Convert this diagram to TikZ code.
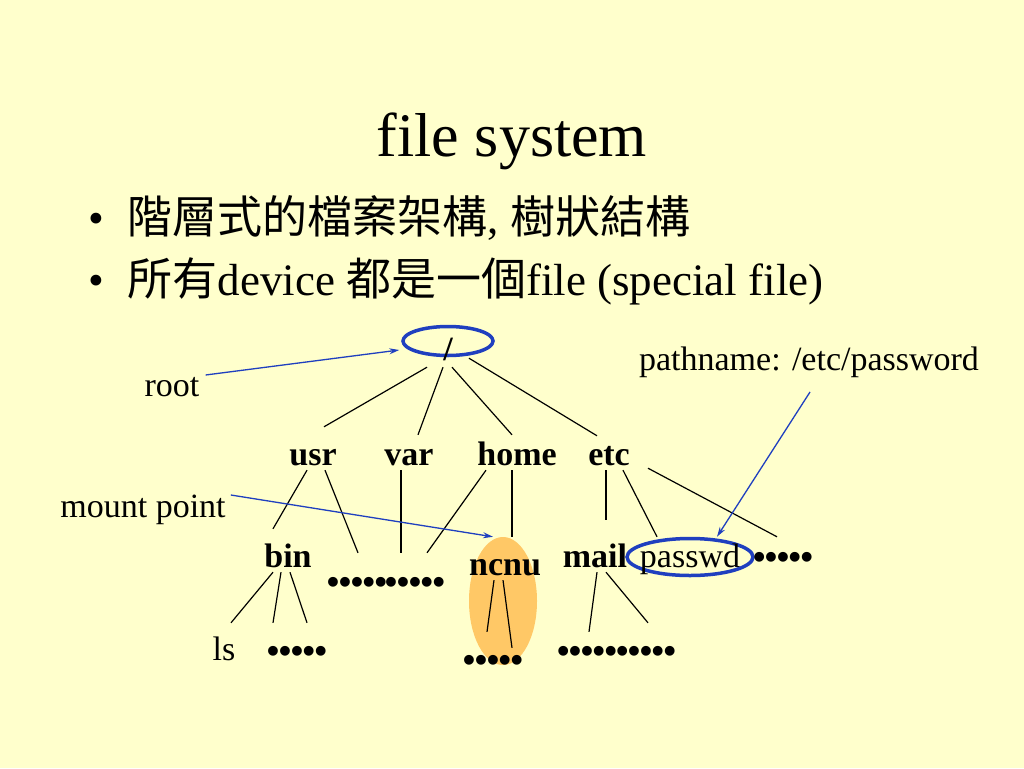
\documentclass[tikz,border=0pt]{standalone}
\usepackage{fontspec}
\setmainfont{Liberation Serif}
\newfontfamily\cjk{Noto Sans CJK TC}
\newfontfamily\dotfont{Liberation Sans}
\usetikzlibrary{arrows.meta,shapes.geometric}
\definecolor{slidebg}{HTML}{FFFFCC}
\definecolor{ringblue}{HTML}{1F3FBF}
\definecolor{mountfill}{HTML}{FFC866}
\tikzset{
    dirnode/.style={inner sep=0pt, anchor=base, text height=38pt, text depth=5pt, font=\fontsize{34}{40}\selectfont\bfseries},
    leafnode/.style={dirnode, font=\fontsize{34}{40}\selectfont},
    dotsnode/.style={dirnode, font=\fontsize{34}{40}\selectfont\dotfont\bfseries},
    note/.style={inner sep=0pt, anchor=base, font=\fontsize{34}{40}\selectfont},
    ring/.style={ellipse, draw=ringblue, line width=3.5pt, inner sep=0pt},
    pointer/.style={draw=ringblue, line width=1.3pt, -{Stealth[length=10pt,width=6pt]}},
    branch/.style={line width=1.2pt},
}
\begin{document}
\begin{tikzpicture}[x=1pt,y=-1pt]
    \fill[slidebg] (0,0) rectangle (1024,768);
    \node[note, font=\fontsize{62}{70}\selectfont] (title) at (512,156) {file system};
    \node[note, anchor=base west, font=\fontsize{45}{50}\selectfont] (bulletA) at (88,233) {•\hspace{23.6pt}{\cjk 階層式的檔案架構}, {\cjk 樹狀結構}};
    \node[note, anchor=base west, font=\fontsize{45}{50}\selectfont] (bulletB) at (88,295) {•\hspace{23.6pt}{\cjk 所有}device {\cjk 都是一個}file (special file)};

    \node[ellipse, fill=mountfill, minimum width=68pt, minimum height=128pt, inner sep=0pt] (ncnuring) at (503,601) {};
    \node[ring, minimum width=90pt, minimum height=29pt] (rootring) at (448,341) {};
    \node[ring, minimum width=126pt, minimum height=37pt] (pwring) at (690,557) {};

    \node[dirnode] (root) at (448,360) {/};
    \node[dirnode] (usr) at (313,465) {usr};
    \node[dirnode] (var) at (409,465) {var};
    \node[dirnode] (home) at (517,465) {home};
    \node[dirnode] (etc) at (609,465) {etc};
    \node[dirnode] (bin) at (288,567) {bin};
    \node[dotsnode] (dA) at (357,593) {•••••};
    \node[dotsnode] (dB) at (415,593) {•••••};
    \node[dirnode] (ncnu) at (505,575) {ncnu};
    \node[dirnode] (mail) at (595,567) {mail};
    \node[leafnode] (passwd) at (690,567) {passwd};
    \node[dotsnode] (dE) at (783,568) {•••••};
    \node[leafnode] (ls) at (224,660) {ls};
    \node[dotsnode] (dF) at (297,662) {•••••};
    \node[dotsnode] (dG) at (493,671) {•••••};
    \node[dotsnode] (dH) at (587,662) {•••••};
    \node[dotsnode] (dI) at (646,662) {•••••};

    \draw[branch] ([shift={(-21,2)}]root.south) -- ([shift={(11,0)}]usr.north);
    \draw[branch] ([shift={(-5,2)}]root.south) -- ([shift={(9,8)}]var.north);
    \draw[branch] ([shift={(4,2)}]root.south) -- ([shift={(-5,8)}]home.north);
    \draw[branch] ([shift={(21,-7)}]root.south) -- ([shift={(-12,9)}]etc.north);
    \draw[branch] ([shift={(-6,0)}]usr.south) -- ([shift={(-15,0)}]bin.north);
    \draw[branch] ([shift={(12,0)}]usr.south) -- ([shift={(1,-2)}]dA.north);
    \draw[branch] ([shift={(-8,0)}]var.south) -- ([shift={(-14,-2)}]dB.north);
    \draw[branch] ([shift={(-31,0)}]home.south) -- ([shift={(12,-2)}]dB.north);
    \draw[branch] ([shift={(-5,0)}]home.south) -- ([shift={(7,0)}]ncnu.north);
    \draw[branch] ([shift={(-3,0)}]etc.south) -- ([shift={(11,-9)}]mail.north);
    \draw[branch] ([shift={(14,0)}]etc.south) -- ([shift={(-33,8)}]passwd.north);
    \draw[branch] ([shift={(39,-2)}]etc.south) -- ([shift={(-6,7)}]dE.north);
    \draw[branch] ([shift={(-15,0)}]bin.south) -- ([shift={(7,1)}]ls.north);
    \draw[branch] ([shift={(-7,0)}]bin.south) -- ([shift={(-24,-1)}]dF.north);
    \draw[branch] ([shift={(2,0)}]bin.south) -- ([shift={(10,-1)}]dF.north);
    \draw[branch] ([shift={(-11,0)}]ncnu.south) -- ([shift={(-6,-1)}]dG.north);
    \draw[branch] ([shift={(-2,0)}]ncnu.south) -- ([shift={(19,15)}]dG.north);
    \draw[branch] ([shift={(2,0)}]mail.south) -- ([shift={(2,8)}]dH.north);
    \draw[branch] ([shift={(11,0)}]mail.south) -- ([shift={(2,-1)}]dI.north);

    \node[note] (rootlbl) at (172,396) {root};
    \node[note] (mountlbl) at (143,517) {mount point};
    \node[note] (pathlbl) at (809,370) {pathname: /etc/password};
    \draw[pointer] ([shift={(6,-21)}]rootlbl.base east) -- ([shift={(-2,9)}]rootring.west);
    \draw[pointer] ([shift={(5,-22)}]mountlbl.base east) -- ([shift={(-10,0)}]ncnuring.north);
    \draw[pointer] ([shift={(1,22)}]pathlbl.base) -- ([shift={(27,0)}]pwring.north);
\end{tikzpicture}
\end{document}
